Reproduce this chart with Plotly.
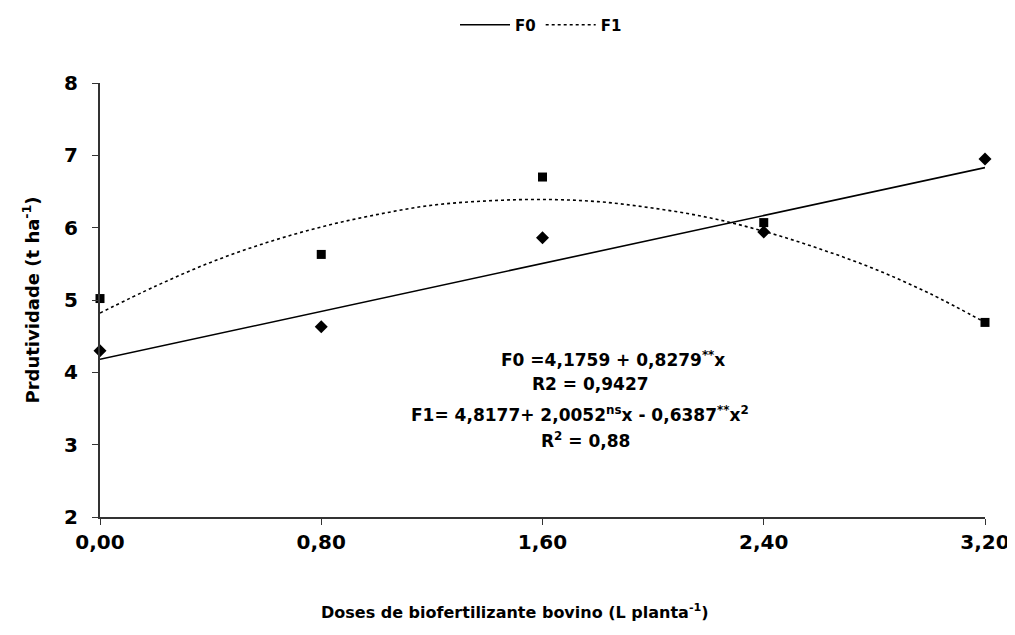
import plotly.graph_objects as go

# Observed data
doses = [0.0, 0.8, 1.6, 2.4, 3.2]
f0_obs = [4.30, 4.63, 5.86, 5.94, 6.95]
f1_obs = [5.02, 5.63, 6.70, 6.07, 4.69]

# Fitted curves
f0_fit_x = [0.0, 3.2]
f0_fit_y = [4.18, 6.83]
f1_fit_x = [0.0, 0.2, 0.4, 0.6, 0.8, 1.0, 1.2, 1.4, 1.6, 1.8, 2.0, 2.2, 2.4, 2.6, 2.8, 3.0, 3.2]
f1_fit_y = [4.82, 5.19, 5.52, 5.79, 6.01, 6.18, 6.31, 6.37, 6.39, 6.36, 6.27, 6.14, 5.95, 5.71, 5.43, 5.09, 4.69]

x_ticks = [0.0, 0.8, 1.6, 2.4, 3.2]
x_tick_labels = ["0,00", "0,80", "1,60", "2,40", "3,20"]
y_ticks = [2, 3, 4, 5, 6, 7, 8]

equations = [
    "F0 =4,1759 + 0,8279<sup>**</sup>x",
    "R2 = 0,9427",
    "F1= 4,8177+ 2,0052<sup>ns</sup>x - 0,6387<sup>**</sup>x<sup>2</sup>",
    "R<sup>2</sup> = 0,88",
]
x_title = "Doses de biofertilizante bovino (L planta<sup>-1</sup>)"
y_title = "Prdutividade (t ha<sup>-1</sup>)"

FONT = "DejaVu Sans, sans-serif"

OFF = 8  # page body margin
W, H = 1007, 627
L, R, T, B = 92, 30, 75, 118
pw = W - L - R
ph = H - T - B
bottom_page = OFF + H - B
left_page = OFF + L

fig = go.Figure()
fig.add_trace(go.Scatter(x=f0_fit_x, y=f0_fit_y, mode="lines", name="F0",
                         line=dict(color="black", width=1.6), cliponaxis=False))
fig.add_trace(go.Scatter(x=f1_fit_x, y=f1_fit_y, mode="lines", name="F1",
                         line=dict(color="black", width=1.6, dash="dot", shape="spline"),
                         cliponaxis=False))
fig.add_trace(go.Scatter(x=doses, y=f0_obs, mode="markers", showlegend=False,
                         marker=dict(symbol="diamond", size=10, color="black"),
                         cliponaxis=False))
fig.add_trace(go.Scatter(x=doses, y=f1_obs, mode="markers", showlegend=False,
                         marker=dict(symbol="square", size=9, color="black"),
                         cliponaxis=False))

ys = [359, 384, 414, 440]
xs = [613, 590, 580, 585]
for txt, xp, yp in zip(equations, xs, ys):
    fig.add_annotation(text=txt, xref="paper", yref="paper",
                       x=(xp - left_page) / pw, y=(bottom_page - yp) / ph,
                       showarrow=False, xanchor="center", yanchor="middle",
                       font=dict(family=FONT, size=17, color="black", weight="bold"))

fig.add_annotation(text=x_title, xref="paper", yref="paper",
                   x=(515 - left_page) / pw, y=(bottom_page - 611) / ph,
                   showarrow=False, xanchor="center", yanchor="middle",
                   font=dict(family=FONT, size=16, color="black", weight="bold"))

fig.update_layout(
    width=W, height=H,
    margin=dict(l=L, r=R, t=T, b=B, autoexpand=False),
    paper_bgcolor="white", plot_bgcolor="white",
    font=dict(family=FONT, color="black"),
    legend=dict(orientation="h", x=(541 - OFF) / W, xanchor="center", xref="container",
                y=1 - (25 - OFF) / H, yanchor="middle", yref="container",
                font=dict(family=FONT, size=15, weight="bold"), itemwidth=50,
                bgcolor="rgba(0,0,0,0)"),
    xaxis=dict(range=[0, 3.2], tickvals=x_ticks, ticktext=x_tick_labels,
               showgrid=False, zeroline=False, showline=True, linecolor="#333",
               linewidth=2, ticks="outside", ticklen=6, tickcolor="#333",
               automargin=False,
               tickfont=dict(family=FONT, size=20, weight="bold")),
    yaxis=dict(range=[2, 8], tickvals=y_ticks, showgrid=False, zeroline=False,
               showline=True, linecolor="#333", linewidth=2, ticks="outside",
               ticklen=6, tickcolor="#333", automargin=False,
               ticklabelstandoff=10,
               tickfont=dict(family=FONT, size=20, weight="bold"),
               title=dict(text=y_title,
                          font=dict(family=FONT, size=18, weight="bold"), standoff=20)),
)

fig.write_html("out.html")
